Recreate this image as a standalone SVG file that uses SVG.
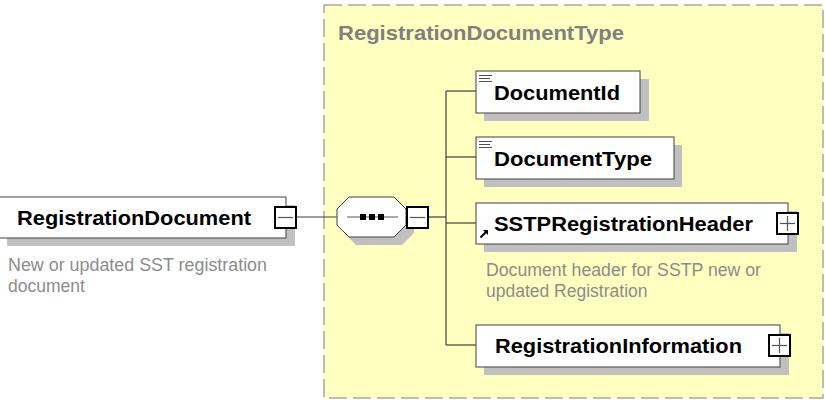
<svg xmlns="http://www.w3.org/2000/svg" width="825" height="403" viewBox="0 0 825 403">
<style>
.shadow{fill:#c0c0c0;stroke:none}
.box{fill:#ffffff;stroke:#404040;stroke-width:1}
.lbl{font-family:"Liberation Sans",Arial,sans-serif;font-weight:bold;font-size:21px;fill:#000000}
.title{font-family:"Liberation Sans",Arial,sans-serif;font-weight:bold;font-size:21px;fill:#808080}
.desc{font-family:"Liberation Sans",Arial,sans-serif;font-size:17.5px;fill:#8c8c8c}
.btn{fill:#ffffff;stroke:#000000;stroke-width:2}
.sign{stroke:#555555;stroke-width:1.2;fill:none}
.conn{stroke:#404040;stroke-width:1.2;fill:none}
.icon{stroke:#505050;stroke-width:1;fill:none}
</style>
<g id="type-frame">
<rect x="324" y="5" width="499" height="393" fill="#ffffc0" stroke="#a8a8a0" stroke-width="1.5" stroke-dasharray="18,6"/>
<text class="title" x="338" y="40" textLength="286" lengthAdjust="spacingAndGlyphs">RegistrationDocumentType</text>
</g>
<g id="connectors">
<line class="conn" x1="297" y1="217" x2="337" y2="217"/>
<line class="conn" x1="428" y1="217" x2="446" y2="217"/>
<line class="conn" x1="446" y1="91" x2="446" y2="345"/>
<line class="conn" x1="446" y1="91" x2="476" y2="91"/>
<line class="conn" x1="446" y1="157" x2="476" y2="157"/>
<line class="conn" x1="446" y1="223" x2="476" y2="223"/>
<line class="conn" x1="446" y1="345" x2="476" y2="345"/>
</g>
<g id="RegistrationDocument">
<rect class="shadow" x="7" y="205" width="288" height="41"/>
<rect class="box" x="-1" y="197" width="287" height="41"/>
<text class="lbl" x="17" y="225" textLength="234" lengthAdjust="spacingAndGlyphs">RegistrationDocument</text>
<rect class="btn" x="275" y="207" width="21" height="21"/>
<line class="sign" x1="278" y1="217.5" x2="293" y2="217.5"/>
<text class="desc" x="8" y="271" textLength="259" lengthAdjust="spacingAndGlyphs">New or updated SST registration</text>
<text class="desc" x="8" y="292">document</text>
</g>
<g id="sequence">
<polygon class="shadow" points="356,205 402,205 414,217 414,233 402,245 356,245 344,233 344,217"/>
<polygon class="box" points="349,197 394,197 406,209 406,225 394,237 349,237 337,225 337,209"/>
<line x1="347" y1="217" x2="398" y2="217" stroke="#555555" stroke-width="1"/>
<rect x="360" y="214" width="6" height="6" fill="#000000"/>
<rect x="369" y="214" width="6" height="6" fill="#000000"/>
<rect x="378" y="214" width="6" height="6" fill="#000000"/>
<rect class="btn" x="407" y="207" width="21" height="21"/>
<line class="sign" x1="410" y1="217.5" x2="425" y2="217.5"/>
</g>
<g id="DocumentId">
<rect class="shadow" x="484" y="79" width="165" height="42"/>
<rect class="box" x="476" y="71" width="164" height="42"/>
<line class="icon" x1="479" y1="75.5" x2="492" y2="75.5"/>
<line class="icon" x1="479" y1="78.5" x2="490" y2="78.5"/>
<line class="icon" x1="479" y1="81.5" x2="492" y2="81.5"/>
<text class="lbl" x="494" y="100" textLength="126" lengthAdjust="spacingAndGlyphs">DocumentId</text>
</g>
<g id="DocumentType">
<rect class="shadow" x="484" y="145" width="198" height="42"/>
<rect class="box" x="476" y="137" width="198" height="42"/>
<line class="icon" x1="479" y1="141.5" x2="492" y2="141.5"/>
<line class="icon" x1="479" y1="144.5" x2="490" y2="144.5"/>
<line class="icon" x1="479" y1="147.5" x2="492" y2="147.5"/>
<text class="lbl" x="494" y="166" textLength="158" lengthAdjust="spacingAndGlyphs">DocumentType</text>
</g>
<g id="SSTPRegistrationHeader">
<rect class="shadow" x="484" y="211" width="313" height="41"/>
<rect class="box" x="476" y="203" width="312" height="41"/>
<path d="M480.5,237.5 L486,232" stroke="#000000" stroke-width="2" fill="none"/>
<polygon points="483,230 488,230 488,235" fill="#000000"/>
<text class="lbl" x="494" y="231" textLength="259" lengthAdjust="spacingAndGlyphs">SSTPRegistrationHeader</text>
<rect class="btn" x="777" y="213" width="21" height="21"/>
<line class="sign" x1="780" y1="223.5" x2="795" y2="223.5"/>
<line class="sign" x1="787.5" y1="216" x2="787.5" y2="231"/>
<text class="desc" x="486" y="276" textLength="275" lengthAdjust="spacingAndGlyphs">Document header for SSTP new or</text>
<text class="desc" x="486" y="297">updated Registration</text>
</g>
<g id="RegistrationInformation">
<rect class="shadow" x="484" y="333" width="305" height="42"/>
<rect class="box" x="476" y="325" width="304" height="42"/>
<text class="lbl" x="495" y="353" textLength="247" lengthAdjust="spacingAndGlyphs">RegistrationInformation</text>
<rect class="btn" x="769" y="335" width="21" height="21"/>
<line class="sign" x1="772" y1="345.5" x2="787" y2="345.5"/>
<line class="sign" x1="779.5" y1="338" x2="779.5" y2="353"/>
</g>
</svg>
